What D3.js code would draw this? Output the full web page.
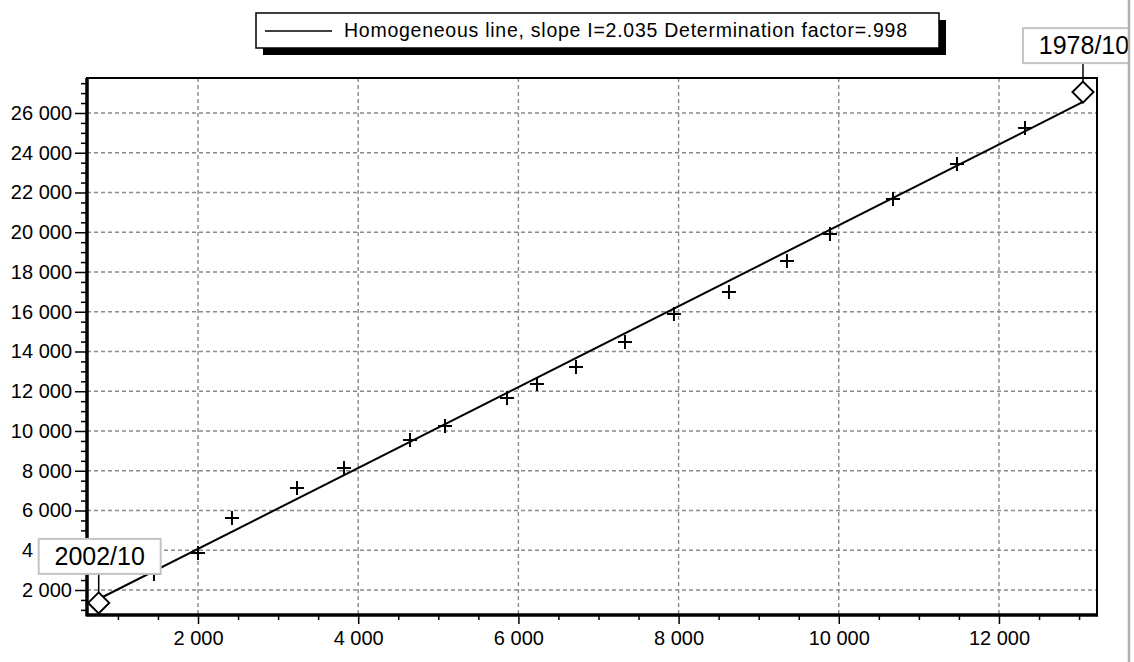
<!DOCTYPE html>
<html>
<head>
<meta charset="utf-8">
<script src="https://cdn.jsdelivr.net/npm/d3@7"></script>
<style>
  body { margin: 0; background: #fff; }
  svg { display: block; font-family: "Liberation Sans", Arial, sans-serif; }
</style>
</head>
<body>
<svg id="chart" width="1134" height="662"></svg>
<script>
// cumulative values
var xValues = [760, 1450, 2000, 2424, 3236, 3823, 4647, 5084, 5858, 6232, 6719, 7331, 7942, 8629, 9353, 9890, 10677, 11476, 12325, 13049];
var yValues = [1350, 2805, 3860, 5620, 7130, 8140, 9550, 10250, 11660, 12360, 13220, 14480, 15890, 16990, 18550, 19910, 21670, 23430, 25240, 27050];
var endLabels = ["2002/10", "1978/10"];   // first and last point
var slope = 2.035;
var legendText = "Homogeneous line, slope I=2.035 Determination factor=.998";
var xTicks = [2000, 4000, 6000, 8000, 10000, 12000];
var yTicks = [2000, 4000, 6000, 8000, 10000, 12000, 14000, 16000, 18000, 20000, 22000, 24000, 26000];

var svg = d3.select("#chart");
var plot = {left: 87, right: 1097, top: 78, bottom: 615};

var x = d3.scaleLinear().domain([614, 13224]).range([plot.left, plot.right]);
var y = d3.scaleLinear().domain([742, 27760]).range([plot.bottom, plot.top]);

var fmt = function(d) { return d3.format(",")(d).replace(/,/g, " "); };

svg.append("clipPath").attr("id", "panel")
  .append("rect").attr("x", 0).attr("y", 0).attr("width", 1128).attr("height", 662);
var root = svg.append("g").attr("clip-path", "url(#panel)");

// grid
var grid = root.append("g")
  .attr("stroke", "#8a8a8a").attr("stroke-width", 1.4).attr("stroke-dasharray", "4,3");
grid.selectAll("line.v").data(xTicks).enter().append("line")
  .attr("x1", d => x(d)).attr("x2", d => x(d))
  .attr("y1", plot.top).attr("y2", plot.bottom);
grid.selectAll("line.h").data(yTicks).enter().append("line")
  .attr("x1", plot.left).attr("x2", plot.right)
  .attr("y1", d => y(d)).attr("y2", d => y(d));

// minor ticks every 500
var minorX = d3.range(1000, 13224, 500).filter(d => xTicks.indexOf(d) < 0);
var minorY = d3.range(1000, 27760, 500).filter(d => yTicks.indexOf(d) < 0);

var ax = root.append("g").attr("transform", "translate(0," + plot.bottom + ")");
ax.call(d3.axisBottom(x).tickValues(minorX).tickSize(5).tickFormat(""));
ax.call(g => g.select(".domain").remove());
var ax2 = root.append("g").attr("transform", "translate(0," + plot.bottom + ")");
ax2.call(d3.axisBottom(x).tickValues(xTicks).tickSize(9).tickPadding(7).tickFormat(fmt));
ax2.select(".domain").remove();

var ay = root.append("g").attr("transform", "translate(" + plot.left + ",0)");
ay.call(d3.axisLeft(y).tickValues(minorY).tickSize(6).tickFormat(""));
ay.select(".domain").remove();
var ay2 = root.append("g").attr("transform", "translate(" + plot.left + ",0)");
ay2.call(d3.axisLeft(y).tickValues(yTicks).tickSize(12).tickPadding(3).tickFormat(fmt));
ay2.select(".domain").remove();

root.selectAll(".tick line").attr("stroke", "#000").attr("stroke-width", 1.5);
root.selectAll(".tick text").attr("font-size", 20).attr("fill", "#000")
  .attr("font-family", "Liberation Sans, Arial, sans-serif");

// frame
root.append("rect").attr("x", plot.left).attr("y", plot.top)
  .attr("width", plot.right - plot.left).attr("height", plot.bottom - plot.top)
  .attr("fill", "none").attr("stroke", "#000").attr("stroke-width", 2);
root.append("line").attr("x1", plot.left).attr("x2", plot.left)
  .attr("y1", plot.top).attr("y2", plot.bottom + 1.5)
  .attr("stroke", "#000").attr("stroke-width", 3.5);
root.append("line").attr("x1", plot.left).attr("x2", plot.right + 1)
  .attr("y1", plot.bottom).attr("y2", plot.bottom)
  .attr("stroke", "#000").attr("stroke-width", 3.5);

// homogeneous line y = slope * x
var x0 = xValues[0], x1 = xValues[xValues.length - 1];
root.append("line")
  .attr("x1", x(x0)).attr("y1", y(slope * x0))
  .attr("x2", x(x1)).attr("y2", y(slope * x1))
  .attr("stroke", "#000").attr("stroke-width", 2);

var pts = xValues.map((v, i) => ({x: v, y: yValues[i], i: i}));
var inner = pts.slice(1, -1);
var ends = [pts[0], pts[pts.length - 1]];

root.append("g").selectAll("path").data(inner).enter().append("path")
  .attr("transform", d => "translate(" + x(d.x) + "," + y(d.y) + ")")
  .attr("d", "M-7,0H7M0,-7V7")
  .attr("stroke", "#000").attr("stroke-width", 2).attr("fill", "none");

// end points: leader, box, label, diamond
var eg = root.append("g").selectAll("g").data(ends).enter().append("g")
  .attr("transform", d => "translate(" + x(d.x) + "," + y(d.y) + ")");
eg.append("line").attr("x1", 0).attr("x2", 0).attr("y1", -10).attr("y2", -30)
  .attr("stroke", "#000").attr("stroke-width", 1.5);
eg.append("rect").attr("x", -60).attr("y", -64).attr("width", 122).attr("height", 35)
  .attr("fill", "#fff").attr("stroke", "#c4c4c4").attr("stroke-width", 2);
eg.append("text").attr("x", 1).attr("y", -38).attr("text-anchor", "middle")
  .attr("font-size", 25).attr("fill", "#000")
  .text((d, i) => endLabels[i]);
eg.append("path").attr("d", "M0,-10.5L10.5,0L0,10.5L-10.5,0Z")
  .attr("fill", "#fff").attr("stroke", "#000").attr("stroke-width", 2);

// right panel edge
svg.append("line").attr("x1", 1129).attr("x2", 1129).attr("y1", 0).attr("y2", 662)
  .attr("stroke", "#b0b0b0").attr("stroke-width", 2.5);

// legend
var lg = svg.append("g");
lg.append("rect").attr("x", 263).attr("y", 20).attr("width", 683).attr("height", 35).attr("fill", "#000");
lg.append("rect").attr("x", 256).attr("y", 13).attr("width", 683).attr("height", 35)
  .attr("fill", "#fff").attr("stroke", "#000").attr("stroke-width", 1.5);
lg.append("line").attr("x1", 265).attr("x2", 332).attr("y1", 31).attr("y2", 31)
  .attr("stroke", "#000").attr("stroke-width", 1.5);
lg.append("text").attr("x", 344).attr("y", 37).attr("font-size", 19.5).attr("fill", "#000")
  .attr("textLength", 563).attr("lengthAdjust", "spacing")
  .text(legendText);
</script>
</body>
</html>
